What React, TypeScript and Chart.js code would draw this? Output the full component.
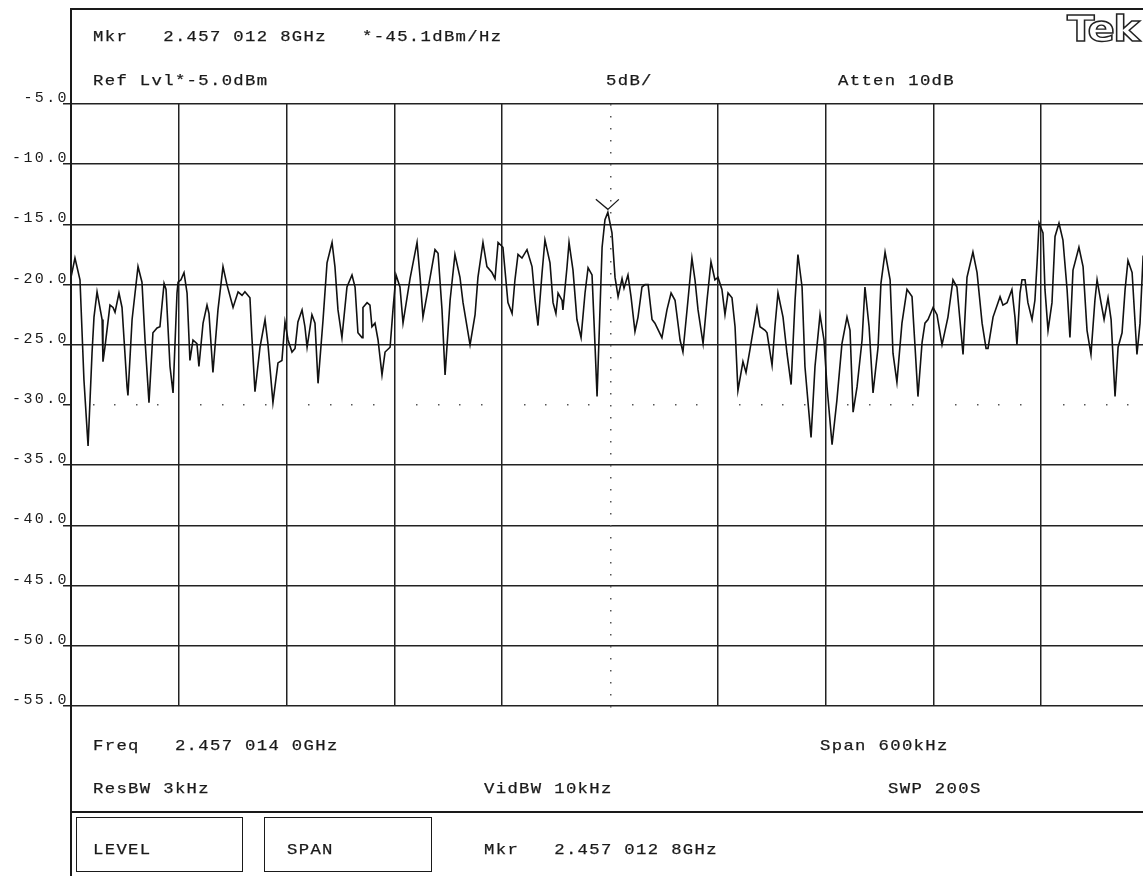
import React, { useEffect, useRef } from "react";
import { Chart, registerables } from "chart.js";

Chart.register(...registerables);

// ---- data ----
// frequency offset from centre (kHz), centre = 2.457 014 0 GHz, span 600 kHz
const FREQ_OFFSET_KHZ = [
  -300.0, -297.8, -295.0, -292.8, -290.5, -288.3, -287.2, -285.5, -282.7, -282.2,
  -281.1, -278.3, -276.6, -275.5, -273.3, -271.6, -268.8, -268.3, -266.0, -262.7,
  -260.5, -258.8, -256.6, -254.4, -252.1, -250.5, -248.2, -247.1, -244.9, -243.2,
  -241.0, -240.4, -238.8, -237.1, -235.4, -233.8, -232.1, -229.9, -228.8, -226.5,
  -224.3, -223.2, -221.0, -218.2, -215.4, -213.2, -209.8, -207.0, -204.8, -203.2,
  -200.4, -199.3, -197.6, -194.8, -192.0, -190.4, -187.6, -184.8, -182.6, -180.9,
  -179.2, -177.0, -175.3, -173.7, -171.4, -169.8, -168.6, -165.9, -164.2, -162.5,
  -159.7, -157.5, -154.7, -153.1, -151.4, -149.2, -146.4, -143.6, -141.9, -140.3,
  -138.0, -137.5, -135.2, -133.6, -132.5, -130.8, -129.1, -126.9, -125.2, -122.4,
  -120.8, -119.1, -116.9, -115.2, -111.3, -107.4, -105.7, -104.1, -101.3, -97.4,
  -95.7, -93.5, -91.8, -89.0, -86.3, -83.5, -81.8, -77.9, -75.1, -73.5,
  -70.7, -68.5, -65.7, -64.0, -62.3, -59.6, -56.8, -54.5, -52.9, -51.2,
  -49.0, -46.2, -43.4, -41.7, -40.1, -37.8, -36.2, -33.4, -31.7, -30.1,
  -28.9, -26.7, -26.2, -23.9, -22.8, -20.6, -18.4, -16.1, -13.9, -12.2,
  -10.0, -8.3, -7.2, -4.4, -2.8, -1.2, 1.1, 2.8, 4.5, 6.7,
  7.8, 10.0, 11.7, 13.9, 15.6, 17.8, 19.5, 21.2, 23.4, 25.0,
  28.9, 31.7, 34.0, 36.2, 39.0, 40.6, 43.4, 45.6, 47.3, 49.0,
  51.8, 54.0, 56.2, 58.4, 60.1, 62.3, 64.0, 65.7, 67.9, 69.6,
  71.2, 74.0, 75.7, 77.9, 81.8, 83.5, 86.3, 87.4, 90.2, 91.8,
  93.5, 96.3, 98.5, 100.8, 103.0, 104.6, 106.9, 108.5, 111.9, 114.1,
  116.9, 119.1, 120.8, 123.6, 126.3, 129.1, 131.9, 133.6, 135.3, 137.5,
  140.3, 141.9, 144.2, 146.4, 149.2, 150.8, 153.1, 155.9, 157.5, 159.7,
  162.5, 165.3, 168.1, 169.8, 171.4, 173.7, 175.3, 177.0, 179.8, 182.0,
  184.8, 188.1, 190.9, 193.1, 196.5, 198.7, 202.0, 204.3, 207.1, 209.3,
  210.4, 213.2, 217.1, 218.7, 221.0, 223.7, 225.4, 226.5, 228.2, 229.3,
  231.0, 232.6, 234.9, 236.5, 237.7, 238.8, 241.0, 242.1, 243.8, 246.0,
  247.7, 249.9, 252.1, 254.4, 256.0, 257.7, 261.0, 263.3, 265.5, 267.7,
  269.9, 271.1, 273.3, 275.0, 277.2, 278.9, 281.1, 282.8, 285.0, 286.7,
  288.3, 290.6, 293.3, 295.0, 296.7, 300.0,
];

// trace level (dBm)
const LEVEL_DBM = [
  -19.4, -17.8, -19.6, -27.9, -33.4, -25.7, -22.7, -20.6, -22.9, -26.4,
  -25.2, -21.7, -21.9, -22.3, -20.7, -21.9, -28.5, -29.2, -22.9, -18.5,
  -19.8, -24.6, -29.8, -24.0, -23.6, -23.5, -19.9, -20.4, -26.8, -29.0,
  -20.7, -19.8, -19.6, -19.0, -20.7, -26.3, -24.6, -24.9, -26.8, -23.2,
  -21.7, -22.4, -27.3, -22.1, -18.5, -20.0, -21.9, -20.6, -20.9, -20.6,
  -21.1, -24.4, -28.9, -25.2, -22.9, -24.9, -29.8, -26.5, -26.3, -23.1,
  -24.6, -25.6, -25.3, -23.1, -22.1, -23.5, -25.2, -22.5, -23.2, -28.2,
  -22.9, -18.2, -16.5, -18.5, -22.1, -24.4, -20.2, -19.2, -20.2, -24.0,
  -24.4, -21.9, -21.5, -21.7, -23.5, -23.2, -24.6, -27.5, -25.6, -25.2,
  -22.1, -19.2, -20.2, -23.2, -19.5, -16.5, -19.4, -22.7, -20.4, -17.1,
  -17.4, -22.1, -27.5, -21.3, -17.5, -19.4, -21.5, -25.0, -22.5, -19.4,
  -16.5, -18.5, -19.0, -19.5, -16.5, -16.9, -21.5, -22.4, -19.6, -17.5,
  -17.8, -17.1, -18.5, -21.3, -23.4, -19.0, -16.3, -18.2, -21.5, -22.4,
  -20.7, -21.3, -22.1, -18.5, -16.5, -18.8, -22.9, -24.4, -20.7, -18.6,
  -19.2, -25.2, -29.3, -16.9, -14.6, -14.0, -15.7, -19.4, -21.0, -19.5,
  -20.3, -19.2, -21.0, -23.9, -22.7, -20.2, -20.0, -20.0, -22.9, -23.2,
  -24.4, -22.1, -20.7, -21.3, -24.6, -25.6, -21.3, -17.8, -19.6, -22.1,
  -24.9, -21.3, -18.1, -19.6, -19.4, -20.4, -22.5, -20.7, -21.1, -23.5,
  -28.8, -26.4, -27.3, -25.4, -21.9, -23.5, -23.8, -24.0, -26.7, -23.5,
  -20.7, -22.7, -25.7, -28.3, -21.3, -17.5, -20.2, -26.8, -32.7, -26.8,
  -22.5, -24.6, -28.5, -33.3, -29.6, -24.9, -22.7, -23.8, -30.6, -28.5,
  -24.6, -20.2, -23.5, -29.0, -25.2, -19.9, -17.3, -19.6, -25.7, -28.1,
  -23.2, -20.4, -21.0, -25.2, -29.3, -24.8, -23.2, -22.9, -21.9, -22.5,
  -25.0, -22.7, -19.6, -20.2, -25.8, -19.4, -17.3, -19.0, -23.2, -25.3,
  -25.3, -22.7, -21.0, -21.7, -21.5, -20.4, -22.7, -25.0, -20.7, -19.6,
  -19.6, -21.5, -22.9, -21.3, -18.2, -14.9, -15.7, -20.4, -23.8, -21.5,
  -16.0, -14.9, -16.3, -20.4, -24.4, -18.8, -16.9, -18.5, -23.8, -25.8,
  -21.3, -19.6, -21.5, -22.9, -21.1, -22.9, -29.3, -25.2, -24.0, -20.4,
  -18.0, -19.0, -25.8, -23.2, -17.7, -18.1,
];

const MARKER_FREQ_KHZ = -1.2;
const MARKER_LEVEL_DBM = -14.0;

const Y_MIN = -55;
const Y_MAX = -5;
const Y_STEP = 5;
const X_MIN = -300;
const X_MAX = 300;
const X_STEP = 60;

// readout texts
const READOUTS = [
  "Mkr   2.457 012 8GHz   *-45.1dBm/Hz",
  "Ref Lvl*-5.0dBm",
  "5dB/",
  "Atten 10dB",
  "Freq   2.457 014 0GHz",
  "Span 600kHz",
  "ResBW 3kHz",
  "VidBW 10kHz",
  "SWP 200S",
  "LEVEL",
  "SPAN",
  "Mkr   2.457 012 8GHz",
];
// layout (left px, baseline px) for each readout
const READOUT_POS: [number, number][] = [
  [93, 41], [93, 85], [606, 85], [838, 85],
  [93, 750], [820, 750], [93, 793], [484, 793], [888, 793],
  [93, 854], [287, 854], [484, 854],
];

const MONO = '"Liberation Mono", "DejaVu Sans Mono", monospace';
const INK = "#1a1a1a";

const spacingPlugin = {
  id: "letterSpacing",
  beforeDraw(chart: any) {
    (chart.ctx as any).letterSpacing = "2.4px";
  },
};

const graticulePlugin = {
  id: "graticule",
  beforeDatasetsDraw(chart: any) {
    const { ctx, scales } = chart;
    const xs = scales.x;
    const ys = scales.y;
    ctx.save();
    ctx.fillStyle = "#555";
    // dotted centre horizontal line
    const yc = ys.getPixelForValue((Y_MIN + Y_MAX) / 2);
    for (let k = 0; k <= (X_MAX - X_MIN) / (X_STEP / 5); k++) {
      if (k % 5 === 0) continue;
      const px = xs.getPixelForValue(X_MIN + (k * X_STEP) / 5);
      ctx.fillRect(Math.round(px), Math.round(yc) - 1, 1.5, 1.5);
    }
    // dotted centre vertical line
    const xc = xs.getPixelForValue((X_MIN + X_MAX) / 2);
    for (let k = 0; k <= (Y_MAX - Y_MIN) / (Y_STEP / 5); k++) {
      const py = ys.getPixelForValue(Y_MIN + (k * Y_STEP) / 5);
      ctx.fillRect(Math.round(xc), Math.round(py), 1.5, 1.5);
    }
    ctx.restore();
  },
  afterDatasetsDraw(chart: any) {
    const { ctx, scales } = chart;
    const px = scales.x.getPixelForValue(MARKER_FREQ_KHZ);
    const py = scales.y.getPixelForValue(MARKER_LEVEL_DBM);
    ctx.save();
    ctx.strokeStyle = INK;
    ctx.lineWidth = 1.3;
    ctx.beginPath();
    ctx.moveTo(px - 12, py - 13);
    ctx.lineTo(px, py - 3);
    ctx.lineTo(px + 11, py - 13);
    ctx.stroke();
    ctx.restore();
  },
};

function hline(left: number, top: number, width: number): React.CSSProperties {
  return { position: "absolute", left, top, width, height: 1.5, background: INK };
}

export default function App() {
  const ref = useRef<HTMLCanvasElement | null>(null);

  useEffect(() => {
    const canvas = ref.current;
    if (!canvas) return;
    const points = FREQ_OFFSET_KHZ.map((f, i) => ({ x: f, y: LEVEL_DBM[i] }));
    const chart = new Chart(canvas, {
      type: "line",
      data: {
        datasets: [
          {
            label: "Trace",
            data: points,
            borderColor: "#111",
            borderWidth: 1.6,
            pointRadius: 0,
            tension: 0,
            fill: false,
          },
        ],
      },
      options: {
        animation: false,
        responsive: false,
        devicePixelRatio: 1,
        events: [],
        layout: { padding: { top: 104, bottom: 170, left: 0, right: 1 } },
        plugins: {
          legend: { display: false },
          tooltip: { enabled: false },
          title: { display: false },
        },
        scales: {
          x: {
            type: "linear",
            min: X_MIN,
            max: X_MAX,
            ticks: { stepSize: X_STEP, display: false },
            grid: {
              color: (c: any) =>
                c.tick && (c.tick.value === 0 || c.tick.value === X_MIN) ? "rgba(0,0,0,0)" : "#222",
              lineWidth: 1.5,
              drawTicks: false,
            },
            border: { display: false },
            afterFit: (s: any) => {
              s.height = 0;
            },
          },
          y: {
            type: "linear",
            min: Y_MIN,
            max: Y_MAX,
            ticks: {
              stepSize: Y_STEP,
              callback: (v: any) => Number(v).toFixed(1),
              font: { family: MONO, size: 15 },
              color: INK,
              padding: -6,
              labelOffset: -6,
            },
            grid: {
              color: (c: any) =>
                c.tick && c.tick.value === (Y_MIN + Y_MAX) / 2 ? "rgba(0,0,0,0)" : "#222",
              tickColor: "#222",
              tickLength: 8,
              lineWidth: 1.5,
            },
            border: { display: false },
            afterFit: (s: any) => {
              s.width = 71;
            },
          },
        },
      },
      plugins: [spacingPlugin, graticulePlugin],
    });
    return () => chart.destroy();
  }, []);

  const textStyle = (left: number, baseline: number): React.CSSProperties => ({
    position: "absolute",
    left,
    top: baseline - 11.5,
    fontFamily: MONO,
    fontSize: 15,
    lineHeight: "15px",
    letterSpacing: "1.17px",
    whiteSpace: "pre",
    color: INK,
    WebkitTextStroke: "0.25px " + INK,
    transform: "scaleX(1.15)",
    transformOrigin: "left top",
  });

  return (
    <div
      style={{
        position: "fixed",
        left: 0,
        top: 0,
        width: 1143,
        height: 876,
        overflow: "hidden",
        background: "#fff",
      }}
    >
      <canvas
        ref={ref}
        width={1150}
        height={876}
        style={{ position: "absolute", left: 0, top: 0, width: 1150, height: 876 }}
      />
      {/* frame */}
      <div style={{ position: "absolute", left: 70, top: 8, width: 1.5, height: 868, background: INK }} />
      <div style={hline(70, 8, 1073)} />
      <div style={hline(70, 811, 1073)} />
      <div
        style={{
          position: "absolute",
          left: 76,
          top: 817,
          width: 167,
          height: 55,
          border: `1.5px solid ${INK}`,
          boxSizing: "border-box",
        }}
      />
      <div
        style={{
          position: "absolute",
          left: 264,
          top: 817,
          width: 168,
          height: 55,
          border: `1.5px solid ${INK}`,
          boxSizing: "border-box",
        }}
      />
      {READOUTS.map((t, i) => (
        <div key={i} style={textStyle(READOUT_POS[i][0], READOUT_POS[i][1])}>
          {t}
        </div>
      ))}
      <div
        style={{
          position: "absolute",
          left: 1067,
          top: 11,
          fontFamily: '"DejaVu Sans", sans-serif',
          fontWeight: 700,
          fontSize: 36,
          lineHeight: "36px",
          letterSpacing: "-1.5px",
          color: "#fff",
          WebkitTextStroke: "1.4px #222",
          whiteSpace: "pre",
          transform: "scaleX(1.12)",
          transformOrigin: "left top",
        }}
      >
        Tek
      </div>
    </div>
  );
}
